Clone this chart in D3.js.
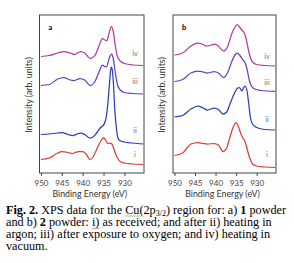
<!DOCTYPE html>
<html>
<head>
<meta charset="utf-8">
<script src="https://cdn.jsdelivr.net/npm/d3@7"></script>
<style>
  body { margin: 0; background: #fff; }
  svg { display: block; }
</style>
</head>
<body>
<script>
// binding energy (eV) and intensity (arb. units, stacked)
var aI   = [[950,13.5],[948,15],[946,20],[945,21.3],[943.5,20.5],[942.5,19.5],[941,21.5],[940,21.5],[939,18],[938.3,13.5],[937.5,16],[936.5,25],[935.5,33],[935,35.5],[934.5,33],[934,29.5],[933.5,30],[933,29],[932.5,24],[932,18],[931.5,14],[931,11.5],[930,10],[928,9],[925.5,8.5]];
var aII  = [[950,38.5],[948,39],[946,40],[945,40.3],[943.5,38.5],[942.3,37.5],[941,39.5],[940.5,40],[939.5,38.5],[938.3,35],[937.5,36],[936.5,41],[935.7,45.5],[935.2,47],[934.5,53],[934,68],[933.6,88],[933.3,103],[933.1,106],[932.9,103],[932.6,88],[932.3,63],[932,48],[931.7,38],[931.3,33],[930,31],[928,30],[925.5,29]];
var aIII = [[950,87.5],[948,88.5],[946,94],[944.5,95.5],[943,93],[942,92.5],[940.7,94.5],[939.5,93],[938.2,87.5],[937,92],[936,102],[935.3,108],[934.7,106.5],[934.3,106.5],[933.6,115],[933.1,119],[932.7,115],[932.2,101],[931.7,89],[931,83],[930,80.5],[928,79.5],[925.5,79]];
var aIV  = [[950,116.5],[948,117.5],[946,120],[944.5,121.5],[943,120],[942,118.5],[940.5,121.5],[939.5,120],[938.2,114.5],[937,118],[936,128],[935.3,134.5],[934.6,132.8],[934.2,132.5],[933.6,141],[933.1,146.3],[932.7,142],[932.2,128],[931.7,117],[931,112],[930,109.5],[928,108],[925.5,107.5]];

var bI   = [[950,17.5],[948,20],[946,29],[944.3,30.5],[943,29.5],[942,29],[940.3,29.5],[939.3,28],[938.2,21.5],[937.3,25],[936.5,36],[935.7,46],[935,50.5],[934.5,47],[934,41],[933.5,36],[933,33],[932.5,27],[932,19],[931.5,13],[931,9],[930,7],[928,6],[925.5,5.5]];
var bII  = [[950,56],[948,57.5],[946,64],[944.3,67],[943,65],[942,63],[940.3,65],[939.3,63.5],[938.2,59],[937.3,61],[936.5,69],[935.5,79],[934.6,85],[934.2,85.5],[933.6,82],[933.2,85],[932.8,87],[932.3,81],[931.9,68],[931.5,55],[931,49],[930,45.5],[928,43.5],[925.5,43]];
var bIII = [[950,91.5],[948,93.5],[946,100],[944.3,102],[943,101],[942,100],[940.3,101.5],[939.3,100],[938,95.5],[937,101],[936,112],[935.2,118.5],[934.7,120],[934,117],[933.3,113],[932.8,110],[932.3,103],[931.8,93],[931.3,87],[930.5,84],[929,82.5],[925.5,81.5]];
var bIV  = [[950,118],[948,120],[946,127],[944.3,130],[943,128.5],[942.2,127],[941,128],[940.2,129],[939.5,127.5],[938,122],[937,127],[936,140],[935.2,146.5],[934.7,148.5],[934.2,146],[933.5,142.5],[933,140],[932.5,133],[932,123],[931.5,115],[931,111],[930,108.5],[928,107.5],[925.5,107]];

var seriesNames = ["i", "ii", "iii", "iv"];
var seriesColors = ["#de3b3b", "#2b3dbd", "#6a3ec2", "#b23b9e"];
var panelA = [aI, aII, aIII, aIV];
var panelB = [bI, bII, bIII, bIV];
var labelYa = [16, 40, 89, 117];
var labelYb = [16, 51, 88, 114];
var xTicks = [950, 945, 940, 935, 930];

var W = 294, H = 263;
var svg = d3.select("body").append("svg").attr("width", W).attr("height", H);

function drawPanel(x0, x1, letter, data, labY) {
    var x = d3.scaleLinear().domain([950.35, 925.3]).range([x0, x1]);
    var y = d3.scaleLinear().domain([0, 158]).range([173, 15]);
    var g = svg.append("g");

    var line = d3.line()
        .x(function(d) { return x(d[0]); })
        .y(function(d) { return y(d[1]); })
        .curve(d3.curveMonotoneX);

    data.forEach(function(s, i) {
        g.append("path")
            .attr("d", line(s))
            .attr("fill", "none")
            .attr("stroke", seriesColors[i])
            .attr("stroke-width", 1.25);
        g.append("text")
            .attr("x", x1 - 9)
            .attr("y", y(labY[i]))
            .attr("text-anchor", "middle")
            .attr("font-family", "Lato, sans-serif")
            .attr("font-size", 7.5)
            .attr("fill", "#777")
            .text(seriesNames[i]);
    });

    g.append("rect")
        .attr("x", x0).attr("y", 15)
        .attr("width", x1 - x0).attr("height", 158)
        .attr("fill", "none").attr("stroke", "#444").attr("stroke-width", 1);

    var ax = g.append("g")
        .attr("transform", "translate(0,173)")
        .call(d3.axisBottom(x).tickValues(xTicks).tickSize(3).tickSizeOuter(0));
    ax.select(".domain").remove();
    ax.selectAll("line").attr("stroke", "#444");
    ax.selectAll("text")
        .attr("font-family", "Lato, sans-serif")
        .attr("font-size", 8)
        .attr("fill", "#444")
        .attr("dy", "0.85em");

    g.append("text")
        .attr("x", x0 + 9).attr("y", 30)
        .attr("font-family", "Lato, sans-serif")
        .attr("font-weight", "bold")
        .attr("font-size", 7.5)
        .text(letter);

    g.append("text")
        .attr("x", (x0 + x1) / 2 - 2).attr("y", 197)
        .attr("text-anchor", "middle")
        .attr("font-family", "Lato, sans-serif")
        .attr("font-size", 8.8)
        .attr("fill", "#333")
        .text("Binding Energy (eV)");

    g.append("text")
        .attr("transform", "translate(" + (x0 - 8) + ",95) rotate(-90)")
        .attr("text-anchor", "middle")
        .attr("font-family", "Lato, sans-serif")
        .attr("font-size", 8.8)
        .attr("fill", "#333")
        .text("Intensity (arb. units)");
}

drawPanel(39.5, 144, "a", panelA, labelYa);
drawPanel(173, 276, "b", panelB, labelYb);

// caption
var caption = [
    [["Fig. 2.", "b"], [" XPS data for the ", ""], ["Cu", "u"], ["(2p", ""], ["3/2", "sub"], [") region for: a) ", ""], ["1", "b"], [" powder", ""]],
    [["and b) ", ""], ["2", "b"], [" powder: ", ""], ["i)", "r"], [" as received; and after ii) heating in", ""]],
    [["argon; iii) after exposure to oxygen; and iv) heating in", ""]],
    [["vacuum.", ""]]
];
var capY0 = 213.5, capStep = 12.3;

caption.forEach(function(segs, li) {
    var t = svg.append("text")
        .attr("x", 6)
        .attr("y", capY0 + li * capStep)
        .attr("font-family", "'Liberation Serif', 'Times New Roman', serif")
        .attr("font-size", 12.2)
        .attr("fill", "#000");
    var pos = 0;
    segs.forEach(function(s) {
        var ts = t.append("tspan").text(s[0]);
        if (s[1] === "b") ts.attr("font-weight", "bold");
        if (s[1] === "sub") ts.attr("font-size", 8).attr("baseline-shift", "-2");
        if (s[1] === "u" || s[1] === "r") {
            var node = t.node();
            var a = node.getStartPositionOfChar(pos);
            var e = node.getEndPositionOfChar(pos + s[0].length - 1);
            var yy = capY0 + li * capStep + 2;
            var d = "M" + a.x + "," + yy;
            for (var xx = a.x; xx < e.x; xx += 2) {
                d += "L" + (xx + 1) + "," + (yy + 1) + "L" + (xx + 2) + "," + yy;
            }
            svg.append("path").attr("d", d).attr("fill", "none")
                .attr("stroke", s[1] === "u" ? "#3a9a3a" : "#e04040")
                .attr("stroke-width", 0.6);
        }
        pos += s[0].length;
    });
});
</script>
</body>
</html>
